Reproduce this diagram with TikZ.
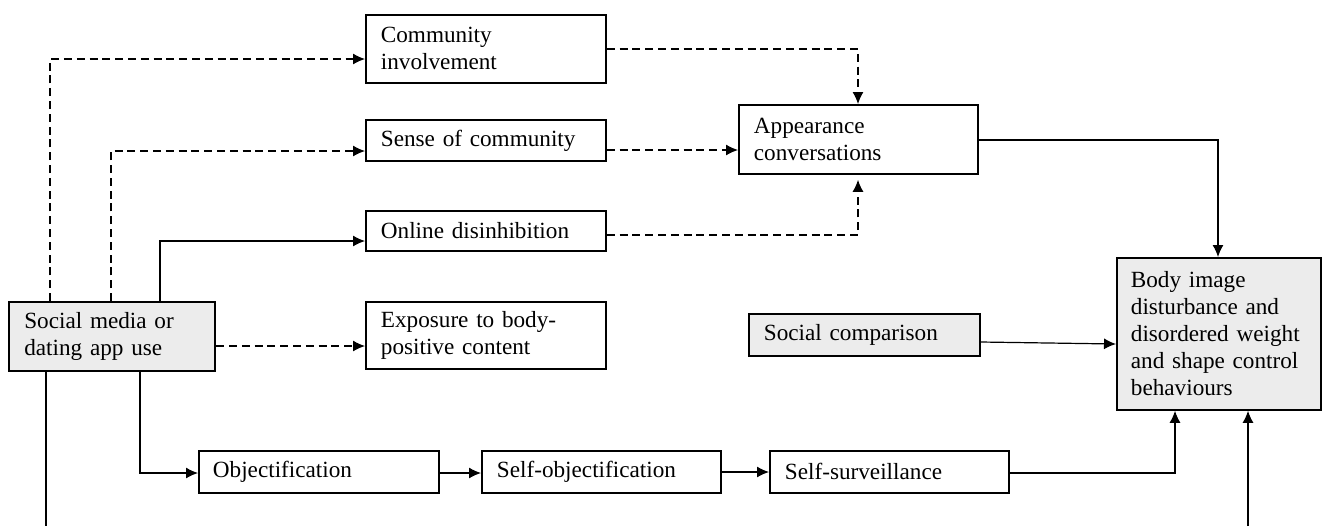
\documentclass[tikz,border=0pt]{standalone}
\usepackage{fontspec}
\setmainfont{Liberation Serif}
\usetikzlibrary{arrows.meta}
\definecolor{boxgray}{gray}{0.925}
\tikzset{
  box/.style={draw, line width=0.9pt, anchor=north west, inner xsep=7.5pt, inner ysep=0pt,
    align=left, font=\fontsize{11.6}{13.5}\selectfont},
  gbox/.style={box, fill=boxgray},
  conn/.style={line width=0.6pt, -{Latex[length=6pt,width=5.5pt]}},
  dconn/.style={conn, dash pattern=on 4pt off 2.4pt},
  plain/.style={line width=0.6pt}
}
\begin{document}
\begin{tikzpicture}[x=0.5pt,y=-0.5pt]
\useasboundingbox (0,0) rectangle (1323,526);
% nodes
\node[box, minimum width=120pt, minimum height=34pt, text width=105pt] (comm) at (365,14) {Community\\involvement};
\node[box, minimum width=120pt, minimum height=20.5pt, text width=105pt] (sense) at (365,119) {Sense of community};
\node[box, minimum width=120pt, minimum height=20pt, text width=105pt] (online) at (365,210) {Online disinhibition};
\node[box, minimum width=120pt, minimum height=33.5pt, text width=105pt] (expo) at (365,301) {Exposure to body-\\positive content};
\node[gbox, minimum width=103pt, minimum height=34.5pt, text width=88pt] (social) at (8.4,301) {Social media or\\dating app use};
\node[box, minimum width=119.5pt, minimum height=34.5pt, text width=104.5pt] (appear) at (738,104) {Appearance\\conversations};
\node[gbox, minimum width=115.5pt, minimum height=21pt, text width=100.5pt] (scomp) at (748,313) {Social comparison};
\node[gbox, minimum width=102pt, minimum height=76pt, text width=88pt, inner xsep=7pt] (body) at (1116,257) {Body image\\disturbance and\\disordered weight\\and shape control\\behaviours};
\node[box, minimum width=120pt, minimum height=21pt, text width=106pt, inner xsep=7pt] (obj) at (198,450) {Objectification};
\node[box, minimum width=119.5pt, minimum height=21pt, text width=104.5pt] (selfobj) at (481,450) {Self-objectification};
\node[box, minimum width=119.5pt, minimum height=21pt, text width=104.5pt] (surv) at (769,450) {Self-surveillance};
% bottom free ends
\coordinate (botL) at (46,526);
\coordinate (botR) at (1248,526);
% connectors from social media use
\draw[dconn] (50,0 |- social.north) |- (comm.west |- 0,59);
\draw[dconn] (111,0 |- social.north) |- (sense.west |- 0,151);
\draw[conn] (160,0 |- social.north) |- (online.west |- 0,241);
\draw[dconn] (social.east |- 0,346) -- (expo.west |- 0,346);
\draw[conn] (140,0 |- social.south) |- (obj.west |- 0,473);
\draw[plain] (46,0 |- social.south) -- (botL);
% objectification chain
\draw[conn] (obj.east |- 0,473) -- (selfobj.west |- 0,473);
\draw[conn] (selfobj.east |- 0,472) -- (surv.west |- 0,472);
\draw[conn] (surv.east |- 0,473) -| (1175,0 |- body.south);
% to appearance conversations
\draw[dconn] (comm.east |- 0,49) -| (858,0 |- appear.north);
\draw[dconn] (sense.east |- 0,150) -- (appear.west |- 0,150);
\draw[dconn, shorten >=2.5pt] (online.east |- 0,235) -| (858,0 |- appear.south);
% to body image
\draw[conn] (appear.east |- 0,140) -| (1218,0 |- body.north);
\draw[conn] (scomp.east |- 0,342) -- (body.west |- 0,344);
\draw[conn] (botR) -- (1248,0 |- body.south);
\end{tikzpicture}
\end{document}
